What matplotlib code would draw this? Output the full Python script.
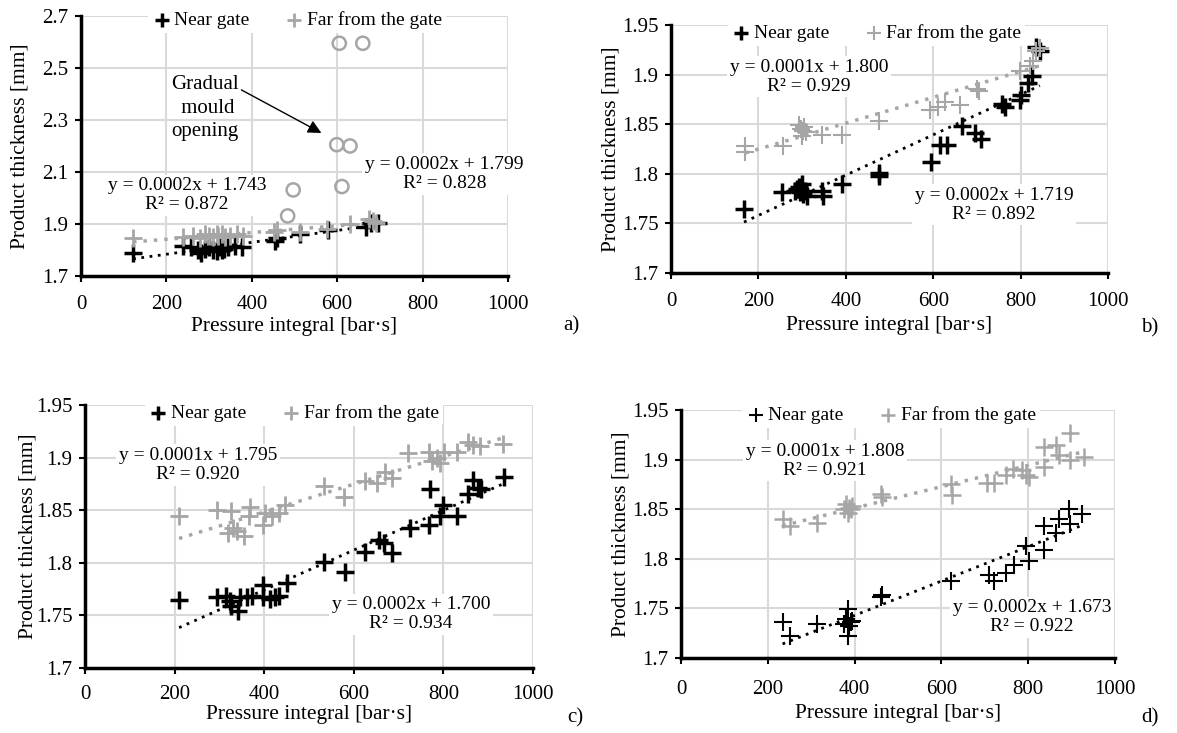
import numpy as np
import matplotlib.pyplot as plt
from matplotlib.ticker import FormatStrFormatter

plt.rcParams['font.family'] = ['Liberation Serif', 'DejaVu Serif']
plt.rcParams['font.size'] = 14

# Datos leídos de la figura
# a)
a_near_x = [122, 238, 258, 275, 280, 290, 300, 310, 318, 325, 330, 336, 345, 360, 376, 455, 460, 514, 579, 667, 680, 696]
a_near_y = [1.79, 1.815, 1.81, 1.80, 1.79, 1.805, 1.81, 1.80, 1.795, 1.81, 1.80, 1.805, 1.81, 1.815, 1.81, 1.835, 1.845, 1.86, 1.875, 1.89, 1.905, 1.905]
a_far_x = [122, 238, 262, 279, 290, 300, 310, 318, 322, 330, 338, 350, 365, 380, 451, 460, 513, 575, 630, 675, 685, 690]
a_far_y = [1.845, 1.85, 1.855, 1.845, 1.86, 1.855, 1.85, 1.86, 1.855, 1.86, 1.85, 1.855, 1.86, 1.855, 1.87, 1.875, 1.87, 1.88, 1.90, 1.92, 1.91, 1.905]
a_open_x = [605, 660, 599, 630, 497, 611, 484]
a_open_y = [2.595, 2.595, 2.205, 2.20, 2.031, 2.044, 1.931]

# b)
b_near_x = [167, 253, 284, 288, 292, 296, 300, 303, 307, 312, 345, 347, 391, 475, 477, 595, 616, 631, 666, 696, 709,
            757, 764, 798, 802, 817, 825, 836, 844]
b_near_y = [1.764, 1.782, 1.783, 1.785, 1.787, 1.782, 1.79, 1.78, 1.783, 1.778, 1.783, 1.778, 1.79, 1.801, 1.798, 1.812,
            1.829, 1.829, 1.848, 1.841, 1.835, 1.870, 1.867, 1.874, 1.879, 1.892, 1.899, 1.928, 1.924]
b_far_x = [170, 170, 256, 292, 298, 302, 305, 300, 310, 345, 391, 475, 593, 612, 627, 662, 700, 705,
           798, 821, 829, 836, 844]
b_far_y = [1.828, 1.822, 1.828, 1.849, 1.845, 1.843, 1.847, 1.838, 1.842, 1.839, 1.839, 1.853, 1.864, 1.867, 1.872,
           1.869, 1.885, 1.883, 1.904, 1.909, 1.914, 1.924, 1.927]

# c)
c_near_x = [210, 294, 315, 324, 327, 342, 346, 361, 372, 398, 398, 413, 425, 432, 451, 533, 581, 626, 656, 667, 685,
            726, 767, 770, 793, 800, 830, 856, 867, 878, 885, 935]
c_near_y = [1.765, 1.767, 1.768, 1.764, 1.759, 1.754, 1.767, 1.767, 1.768, 1.779, 1.767, 1.766, 1.767, 1.768, 1.781,
            1.801, 1.791, 1.81, 1.822, 1.819, 1.809, 1.833, 1.836, 1.87, 1.844, 1.855, 1.844, 1.865, 1.879, 1.871,
            1.87, 1.882]
c_far_x = [210, 295, 327, 320, 331, 339, 354, 369, 367, 398, 402, 417, 432, 447, 533, 578, 626, 652, 670, 685,
           722, 767, 774, 785, 793, 801, 830, 855, 867, 881, 933]
c_far_y = [1.844, 1.85, 1.849, 1.828, 1.833, 1.83, 1.825, 1.853, 1.844, 1.836, 1.847, 1.844, 1.847, 1.855, 1.873,
           1.863, 1.878, 1.876, 1.886, 1.881, 1.904, 1.905, 1.897, 1.90, 1.895, 1.905, 1.905, 1.915, 1.912, 1.911,
           1.913]

# d)
d_near_x = [234, 252, 313, 384, 380, 392, 388, 395, 384, 376, 460, 464, 621, 710, 721, 748, 767, 794, 802,
            836, 836, 863, 870, 893, 897, 924]
d_near_y = [1.736, 1.722, 1.734, 1.749, 1.739, 1.736, 1.732, 1.737, 1.722, 1.734, 1.762, 1.764, 1.778, 1.784, 1.778,
            1.786, 1.794, 1.813, 1.798, 1.809, 1.833, 1.826, 1.84, 1.85, 1.835, 1.845]
d_far_x = [234, 252, 313, 380, 388, 392, 384, 395, 376, 460, 464, 621, 624, 706, 721, 748, 764, 786, 794, 802,
           836, 836, 863, 870, 897, 897, 928]
d_far_y = [1.840, 1.833, 1.836, 1.855, 1.851, 1.85, 1.846, 1.853, 1.85, 1.865, 1.862, 1.875, 1.864, 1.876, 1.876,
           1.885, 1.891, 1.89, 1.885, 1.882, 1.893, 1.913, 1.915, 1.905, 1.927, 1.90, 1.903]

eq_text = {
    'a': [('y = 0.0002x + 1.743\nR² = 0.872', 248, 2.01), ('y = 0.0002x + 1.799\nR² = 0.828', 851, 2.092)],
    'b': [('y = 0.0001x + 1.800\nR² = 0.929', 316, 1.898), ('y = 0.0002x + 1.719\nR² = 0.892', 739, 1.769)],
    'c': [('y = 0.0001x + 1.795\nR² = 0.920', 252, 1.893), ('y = 0.0002x + 1.700\nR² = 0.934', 728, 1.751)],
    'd': [('y = 0.0001x + 1.808\nR² = 0.921', 332, 1.899), ('y = 0.0002x + 1.673\nR² = 0.922', 809, 1.741)],
}

GRAY = '#a6a6a6'

fig = plt.figure(figsize=(11.77, 7.33), dpi=100)


def panel(rect, nx, ny, fx, fy, yticks, ylim, eqs, letter, letter_pos, leg_pos,
          xpad, xlab_y, ylab_x, near_lw=2.5, far_lw=2.0):
    ax = fig.add_axes(rect)
    ax.set_xlim(0, 1000)
    ax.set_ylim(*ylim)
    ax.set_xticks(range(0, 1001, 200))
    ax.set_yticks(yticks)
    ax.yaxis.set_major_formatter(FormatStrFormatter('%g'))
    ax.grid(True, color='#d9d9d9', lw=1.5, zorder=0)
    ax.set_axisbelow(True)
    for s in ['top', 'right']:
        ax.spines[s].set_visible(False)
    for s in ['left', 'bottom']:
        ax.spines[s].set_linewidth(2.5)
    ax.tick_params(direction='out', length=4, width=1.5, labelsize=15)
    ax.tick_params(axis='x', pad=xpad)
    ax.tick_params(axis='y', pad=5)

    # líneas de tendencia
    for x, y, c, lw in [(fx, fy, GRAY, 2.5), (nx, ny, 'black', 2.0)]:
        k, b = np.polyfit(x, y, 1)
        xx = np.array([min(x), max(x)])
        ax.plot(xx, k * xx + b, ls=(0, (1, 2)), color=c, lw=lw, zorder=2)

    ax.scatter(nx, ny, marker='+', s=150, color='black', linewidths=near_lw, zorder=3, label='Near gate')
    ax.scatter(fx, fy, marker='+', s=150, color=GRAY, linewidths=far_lw, zorder=3, label='Far from the gate')

    for t, x, y in eqs:
        ax.text(x, y, t, ha='center', va='center', fontsize=14, linespacing=1.15,
                bbox=dict(facecolor='white', edgecolor='none', pad=2), zorder=4)

    leg = ax.legend(loc='center', bbox_to_anchor=leg_pos, ncol=2, fontsize=14,
                    frameon=True, facecolor='white', edgecolor='none', framealpha=1,
                    handletextpad=0.15, columnspacing=1.8, borderpad=0.2, handlelength=1.0,
                    scatterpoints=1, markerscale=0.85)
    leg.set_zorder(5)

    ax.set_xlabel('Pressure integral [bar·s]', fontsize=15.5)
    ax.xaxis.set_label_coords(0.5, xlab_y)
    ax.xaxis.label.set_va('center')
    ax.set_ylabel('Product thickness [mm]', fontsize=15.5)
    ax.yaxis.set_label_coords(ylab_x, 0.5)
    ax.yaxis.label.set_va('center')
    fig.text(letter_pos[0], letter_pos[1], letter, fontsize=15, ha='center', va='center')
    return ax


ax_a = panel([0.0688, 0.6235, 0.3628, 0.3547], a_near_x, a_near_y, a_far_x, a_far_y,
             [1.7, 1.9, 2.1, 2.3, 2.5, 2.7], (1.7, 2.7), eq_text['a'], 'a)', (571 / 1177, 1 - 326 / 733),
             (0.506, 0.985), 10, -0.195, -0.143)
ax_a.scatter(a_open_x, a_open_y, marker='o', s=90, facecolors='none', edgecolors=GRAY, linewidths=1.8, zorder=3)
ax_a.annotate('Gradual\n mould\nopening', xy=(563, 2.25), xytext=(290, 2.346), ha='center', va='center',
              fontsize=15, linespacing=1.3,
              arrowprops=dict(arrowstyle='-|>', color='black', lw=1.0, mutation_scale=20,
                              shrinkA=0, shrinkB=0, relpos=(1.0, 0.8)))

ticks2 = [1.7, 1.75, 1.8, 1.85, 1.9, 1.95]
panel([0.5701, 0.6276, 0.3713, 0.3383], b_near_x, b_near_y, b_far_x, b_far_y,
      ticks2, (1.7, 1.95), eq_text['b'], 'b)', (1150 / 1177, 1 - 328 / 733), (0.47, 0.968),
      10, -0.21, -0.138, far_lw=1.5)
panel([0.0722, 0.0887, 0.3806, 0.3588], c_near_x, c_near_y, c_far_x, c_far_y,
      ticks2, (1.7, 1.95), eq_text['c'], 'c)', (575 / 1177, 1 - 718 / 733), (0.466, 0.97),
      8, -0.175, -0.128)
panel([0.5786, 0.1023, 0.3687, 0.3383], d_near_x, d_near_y, d_far_x, d_far_y,
      ticks2, (1.7, 1.95), eq_text['d'], 'd)', (1150 / 1177, 1 - 718 / 733), (0.484, 0.98),
      11.5, -0.225, -0.138, near_lw=1.5, far_lw=1.8)

fig.savefig('out.png', dpi=100)
